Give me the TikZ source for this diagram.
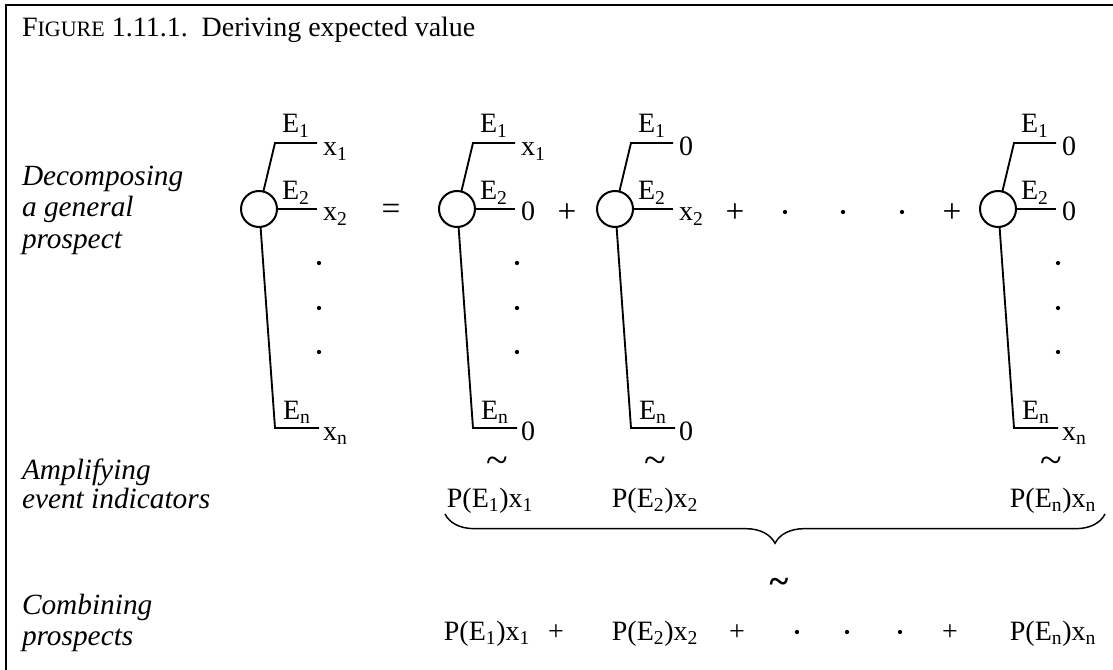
\documentclass[tikz,border=0pt]{standalone}
\usepackage{fontspec}
\setmainfont{Liberation Serif}
\usetikzlibrary{decorations.pathreplacing}
\newcommand{\sbs}[1]{\textsubscript{#1}}
\newcommand{\ptree}[6]{%
  % #1 cx, #2 name, #3 top outcome, #4 mid outcome, #5 bottom outcome, #6 dots (1/0)
  \node[pcirc] (#2c) at (#1,209) {};
  \coordinate (#2tc) at ({#1+16},143);
  \coordinate (#2te) at ({#1+58},143);
  \coordinate (#2me) at ({#1+58},209);
  \coordinate (#2bc) at ({#1+16},428);
  \coordinate (#2be) at ({#1+60},428);
  \draw[br] (#2c.76) -- (#2tc) -- (#2te);
  \draw[br] (#2c.east) -- (#2me);
  \draw[br] (#2c.275) -- (#2bc) -- (#2be);
  \node[txt] (#2E1) at ({#1+23},133) {E\sbs{1}};
  \node[txt] (#2E2) at ({#1+23},200) {E\sbs{2}};
  \node[txt] (#2En) at ({#1+24},419) {E\sbs{n}};
  \node[txt] (#2o1) at ({#1+64},156) {#3};
  \node[txt] (#2o2) at ({#1+64},221) {#4};
  \node[txt] (#2on) at ({#1+64},440) {#5};
  \ifnum#6=1
    \node[dotn] (#2d1) at ({#1+60},263) {};
    \node[dotn] (#2d2) at ({#1+60},308) {};
    \node[dotn] (#2d3) at ({#1+60},352) {};
  \fi
}
\begin{document}
\begin{tikzpicture}[x=0.75pt,y=-0.75pt,
  every node/.style={inner sep=0pt,outer sep=0pt,font=\fontsize{21}{25}\selectfont},
  txt/.style={anchor=base west},
  ctr/.style={anchor=base},
  op/.style={font=\fontsize{25}{28}\selectfont},
  tl/.style={font=\fontsize{30}{32}\selectfont},
  lbl/.style={anchor=base west,font=\fontsize{22}{25}\selectfont\itshape},
  pcirc/.style={circle,draw,line width=1.5pt,minimum size=27pt},
  br/.style={line width=1.4pt},
  dotn/.style={circle,fill,minimum size=3.2pt},
  frame/.style={line width=1.8pt}]
\useasboundingbox (0,0) rectangle (1113,670);
\draw[frame] (1125,5) -- (6,5) -- (6,680);
\node[txt] (title) at (22,37) {F{\fontsize{16.5}{20}\selectfont IGURE} 1.11.1.\ \ Deriving expected value};
% left labels
\node[lbl] (l1a) at (22,186) {Decomposing};
\node[lbl] (l1b) at (22,217) {a general};
\node[lbl] (l1c) at (22,248) {prospect};
\node[lbl] (l2a) at (22,479) {Amplifying};
\node[lbl] (l2b) at (22,508) {event indicators};
\node[lbl] (l3a) at (22,614) {Combining};
\node[lbl] (l3b) at (22,645) {prospects};
% trees
\ptree{259}{a}{x\sbs{1}}{x\sbs{2}}{x\sbs{n}}{1}
\ptree{457}{b}{x\sbs{1}}{0}{0}{1}
\ptree{615}{c}{0}{x\sbs{2}}{0}{0}
\ptree{998}{d}{0}{0}{x\sbs{n}}{1}
% operators
\node[op] (eq) at (391,212) {=};
\node[op] (p1) at (567,213) {+};
\node[op] (p2) at (735,213) {+};
\node[dotn] (h1) at (785,212) {};
\node[dotn] (h2) at (843,212) {};
\node[dotn] (h3) at (902,212) {};
\node[op] (p3) at (952,213) {+};
% tildes
\node[tl] (t1) at (497,465) {\textasciitilde};
\node[tl] (t2) at (655,465) {\textasciitilde};
\node[tl] (t3) at (1051,465) {\textasciitilde};
% amplified
\node[ctr] (a1) at (490,507) {P(E\sbs{1})x\sbs{1}};
\node[ctr] (a2) at (655,507) {P(E\sbs{2})x\sbs{2}};
\node[ctr] (a3) at (1053,507) {P(E\sbs{n})x\sbs{n}};
% brace
\coordinate (bl) at (445,514);
\coordinate (brr) at (1105,514);
\draw[line width=1.1pt,decorate,decoration={brace,mirror,amplitude=22pt}] (bl) -- (brr);
\node (bt) at (779,586) {\bfseries\fontsize{27}{30}\selectfont\textasciitilde};
% combined
\node[ctr] (c1) at (487,640) {P(E\sbs{1})x\sbs{1}};
\node[ctr] (cp1) at (556,640) {+};
\node[ctr] (c2) at (655,640) {P(E\sbs{2})x\sbs{2}};
\node[ctr] (cp2) at (737,640) {+};
\node[dotn] (cd1) at (797,632) {};
\node[dotn] (cd2) at (847,632) {};
\node[dotn] (cd3) at (900,632) {};
\node[ctr] (cp3) at (950,640) {+};
\node[ctr] (c3) at (1053,640) {P(E\sbs{n})x\sbs{n}};
\end{tikzpicture}
\end{document}
